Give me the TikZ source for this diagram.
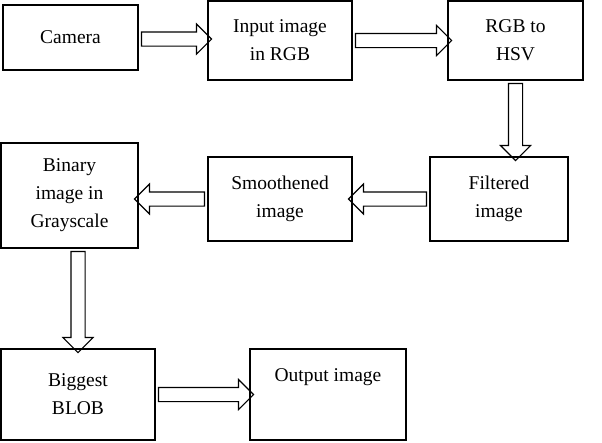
\documentclass[tikz,border=0pt]{standalone}
\usepackage{fontspec}
\setmainfont{Liberation Serif}
\usetikzlibrary{shapes.arrows}
\begin{document}
\begin{tikzpicture}[x=1pt,y=-1pt,
  box/.style={draw,line width=1.2pt,inner sep=0pt,align=center,font=\fontsize{19.5}{28}\selectfont},
  arr/.style={draw,line width=1.1pt,single arrow,single arrow head extend=8pt,inner xsep=0pt,inner ysep=6.5pt,shape border uses incircle=false}]
\useasboundingbox (0,0) rectangle (602,442);
\node[box,minimum width=135pt,minimum height=65pt] (cam) at (70.5,37.5) {Camera};
\node[box,minimum width=144pt,minimum height=79pt] (inp) at (280,40.5) {Input image\\in RGB};
\node[box,minimum width=135pt,minimum height=79pt] (hsv) at (515.5,40.5) {RGB to\\HSV};
\node[box,minimum width=138pt,minimum height=84pt] (fil) at (499,199) {Filtered\\image};
\node[box,minimum width=144pt,minimum height=84pt] (smo) at (280,199) {Smoothened\\image};
\node[box,minimum width=137pt,minimum height=105pt] (bin) at (69.5,195.5) {Binary\\image in\\Grayscale};
\node[box,minimum width=154pt,minimum height=91pt] (big) at (78,394.5) {Biggest\\BLOB};
\node[box,minimum width=156pt,minimum height=91pt,text depth=0pt] (out) at (328,394.5) {};
\node[font=\fontsize{19.5}{28}\selectfont] (outt) at (out.center |- 0,377) {Output image};
\path (cam.east) -- (inp.west) node[midway,arr,minimum height=70pt] (a1) {};
\path (inp.east) -- (hsv.west) node[midway,arr,minimum height=96pt] (a2) {};
\path (hsv.south) -- (hsv.south |- fil.north) node[midway,arr,rotate=-90,minimum height=77pt] (a3) {};
\path (fil.west) -- (smo.east) node[midway,arr,rotate=180,minimum height=78pt] (a4) {};
\path (smo.west) -- (smo.west -| bin.east) node[midway,arr,rotate=180,minimum height=70pt] (a5) {};
\path (big.north |- bin.south) -- (big.north) node[midway,arr,rotate=-90,minimum height=101pt] (a6) {};
\path (big.east) -- (out.west) node[midway,arr,minimum height=95pt] (a7) {};
\end{tikzpicture}
\end{document}
